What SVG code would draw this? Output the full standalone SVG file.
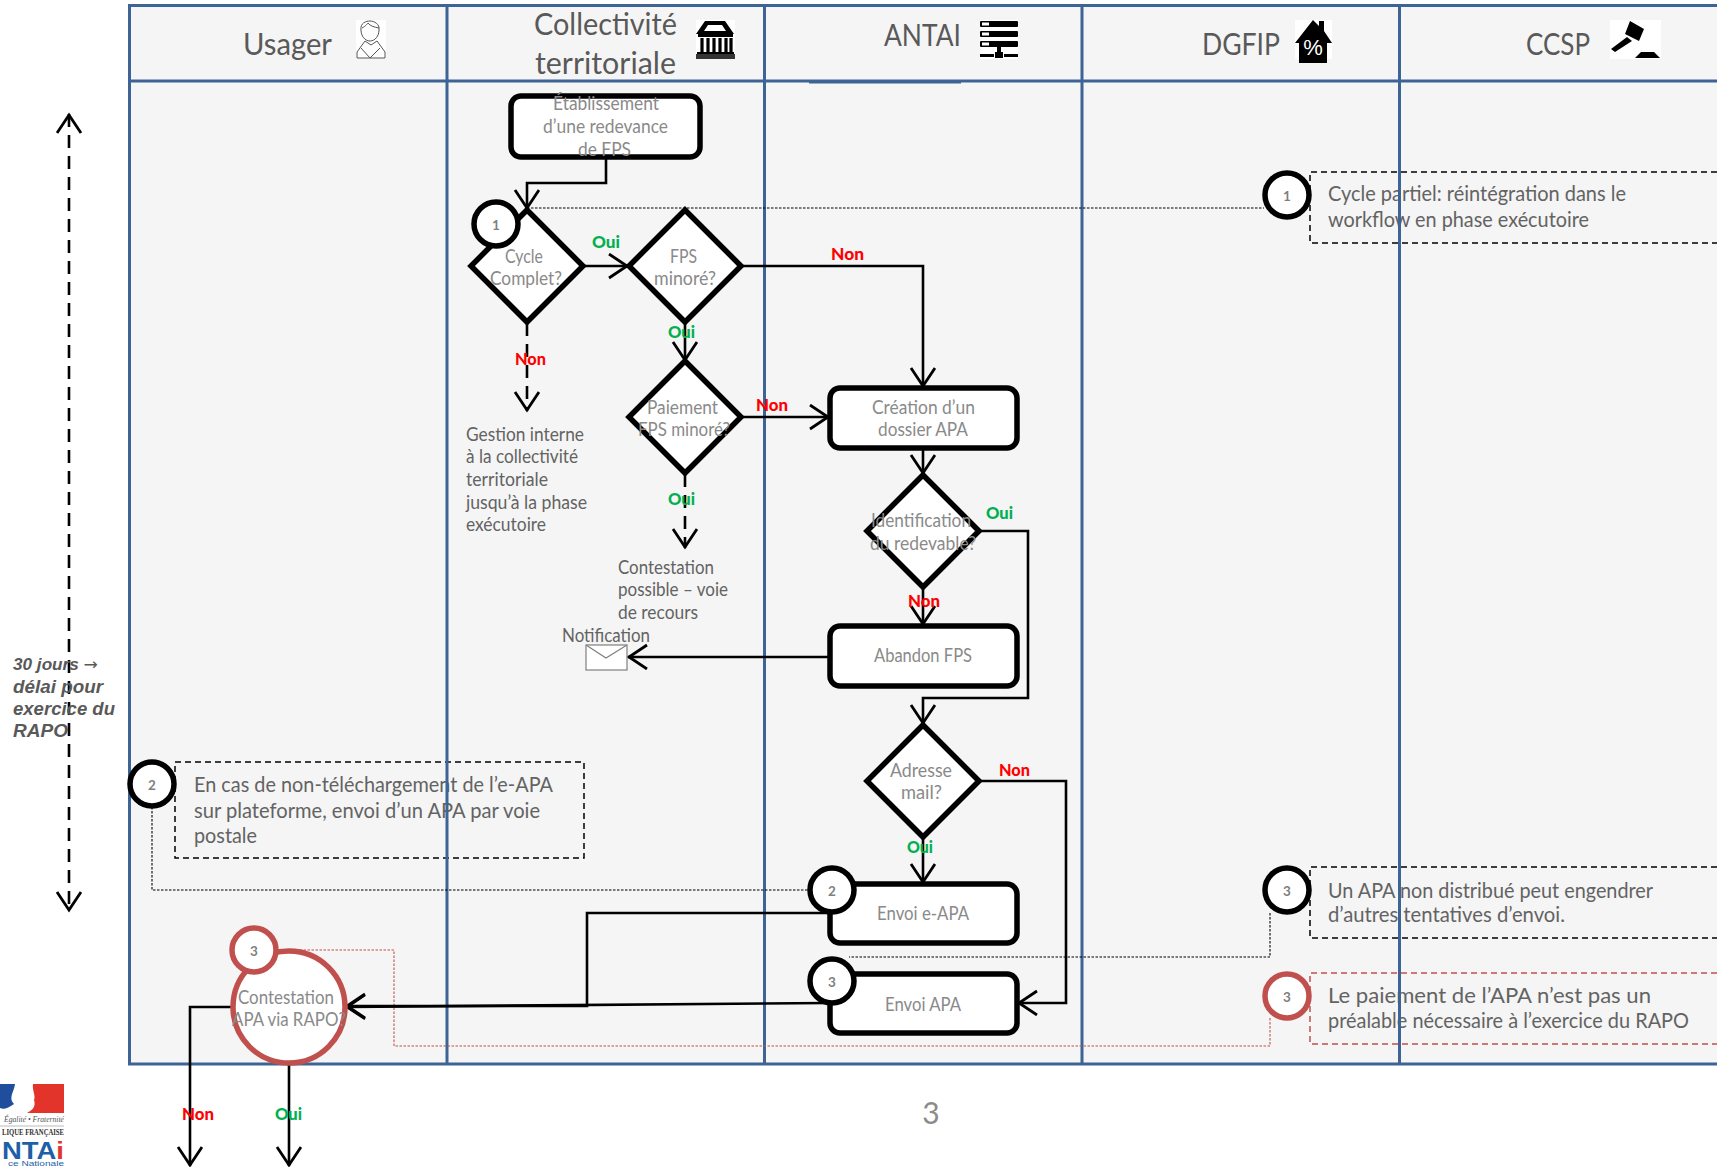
<svg xmlns="http://www.w3.org/2000/svg" width="1717" height="1167" viewBox="0 0 1717 1167">
<style>
text{font-family:"Lato","Open Sans","Liberation Sans",sans-serif}
.lane{fill:none;stroke:#3e6496;stroke-width:3}
.box{fill:#fff;stroke:#000;stroke-width:5.5}
.rd{fill:#fff;stroke:#000;stroke-width:5.5;stroke-linejoin:miter}
.c{fill:#fff;stroke:#000;stroke-width:5.5}
.cr{fill:#fff;stroke:#c0504d;stroke-width:5.5}
.h{font-size:31px;fill:#595959}
.t{font-size:18.5px;fill:#8a8a8a;text-anchor:start}
.d{font-size:18.5px;fill:#636363}
.n{font-size:20.5px;fill:#636363}
.num{font-size:13.5px;font-weight:700;fill:#7f7f7f;text-anchor:middle}
.oui{font-size:17.5px;font-weight:900;fill:#00b050}
.non{font-size:17.5px;font-weight:900;fill:#ff0000}
.s{font-family:"Liberation Sans",Arial,sans-serif;font-style:italic;font-weight:700;fill:#595959;font-size:18px}
.l{fill:none;stroke:#000;stroke-width:2.6;marker-end:url(#ah)}
.ds{fill:none;stroke:#000;stroke-width:2.6;stroke-dasharray:13 8;marker-end:url(#ah)}
.dot{fill:none;stroke:#000;stroke-width:1.1;stroke-dasharray:2.5 1.5}
.dotr{fill:none;stroke:#c0504d;stroke-width:1.1;stroke-dasharray:2.5 1.5}
.note{fill:none;stroke:#000;stroke-width:1.5;stroke-dasharray:6 4}
.noter{fill:none;stroke:#c0504d;stroke-width:1.5;stroke-dasharray:6 4}
</style>
<defs>
<marker id="ah" markerUnits="userSpaceOnUse" markerWidth="28" markerHeight="30" refX="21" refY="13" orient="auto">
<path d="M2 1 L20 13 L2 25" fill="none" stroke="#000" stroke-width="2.8"/>
</marker>
<marker id="ahs" markerUnits="userSpaceOnUse" markerWidth="28" markerHeight="30" refX="21" refY="13" orient="auto-start-reverse">
<path d="M2 1 L20 13 L2 25" fill="none" stroke="#000" stroke-width="2.8"/>
</marker>
</defs>
<rect width="1717" height="1167" fill="#fff"/>
<g id="swimlane-bg">
<rect x="129.500" y="5.500" width="1587.500" height="1058.500" fill="#f5f5f5"/>
</g>
<g id="notes">
<g id="note-1"><path class="note" d="M1717 172H1310V243H1717"/>
<text class="n" x="1328" y="201" textLength="298" lengthAdjust="spacingAndGlyphs">Cycle partiel: réintégration dans le</text>
<text class="n" x="1328" y="227" textLength="261" lengthAdjust="spacingAndGlyphs">workflow en phase exécutoire</text></g>
<g id="note-2"><rect class="note" x="175" y="762" width="409" height="96"/>
<text class="n" x="194" y="792" textLength="359" lengthAdjust="spacingAndGlyphs">En cas de non-téléchargement de l’e-APA</text>
<text class="n" x="194" y="818" textLength="346" lengthAdjust="spacingAndGlyphs">sur plateforme, envoi d’un APA par voie</text>
<text class="n" x="194" y="843" textLength="63" lengthAdjust="spacingAndGlyphs">postale</text></g>
<g id="note-3"><path class="note" d="M1717 867H1310V938H1717"/>
<text class="n" x="1328" y="898" textLength="325" lengthAdjust="spacingAndGlyphs">Un APA non distribué peut engendrer</text>
<text class="n" x="1328" y="922" textLength="237" lengthAdjust="spacingAndGlyphs">d’autres tentatives d’envoi.</text></g>
<g id="note-4"><path class="noter" d="M1717 973H1310V1044H1717"/>
<text class="n" x="1328" y="1003" textLength="323" lengthAdjust="spacingAndGlyphs">Le paiement de l’APA n’est pas un</text>
<text class="n" x="1328" y="1028" textLength="361" lengthAdjust="spacingAndGlyphs">préalable nécessaire à l’exercice du RAPO</text></g>
</g>
<g id="swimlanes">
<path class="lane" d="M1717 5.500H129.500V1064H1717M129.500 81H1717M447 5.500V1064M764.500 5.500V1064M1082 5.500V1064M1399.500 5.500V1064"/>
<path class="lane" d="M809 82H961"/>
<text class="h" x="243" y="55" textLength="89" lengthAdjust="spacingAndGlyphs">Usager</text>
<text class="h" x="534" y="35" textLength="143" lengthAdjust="spacingAndGlyphs">Collectivité</text>
<text class="h" x="535" y="74" textLength="141" lengthAdjust="spacingAndGlyphs">territoriale</text>
<text class="h" x="884" y="46" textLength="77" lengthAdjust="spacingAndGlyphs">ANTAI</text>
<text class="h" x="1202" y="55" textLength="78" lengthAdjust="spacingAndGlyphs">DGFIP</text>
<text class="h" x="1526" y="55" textLength="64" lengthAdjust="spacingAndGlyphs">CCSP</text>
</g>
<g id="icon-usager">
<rect x="356" y="20" width="30" height="39" fill="#fff"/>
<path d="M361 30c-1-7 5-9 9-9s10 3 9 9c0 6-4 11-9 11s-9-5-9-11zM362 28c4-2 5-4 6-5 2 3 6 4 11 5M365 41l-8 11v6h28v-6l-8-11-6 4zM361 48l9 10 10-10" fill="#fff" stroke="#555" stroke-width="1"/>
</g>
<g id="icon-collectivite">
<rect x="696" y="20" width="39" height="39" fill="#fff"/>
<path d="M705 21h20l9 13H696zM708 25l-4 6h22l-4-6z" fill="#000" fill-rule="evenodd"/>
<rect x="698" y="34" width="35" height="3"/>
<path d="M702 38v14M708 38v14M714 38v14M720 38v14M726 38v14M731 38v14" stroke="#000" stroke-width="3.200"/>
<rect x="697" y="52" width="37" height="2"/><rect x="696" y="54" width="39" height="5" fill="#333"/>
</g>
<g id="icon-antai">
<rect x="980" y="20" width="38" height="39" fill="#fff"/>
<g><rect x="980" y="21" width="38" height="6" rx="1"/><rect x="982" y="22.500" width="7" height="3" fill="#fff"/></g>
<g><rect x="980" y="31" width="38" height="6" rx="1"/><rect x="982" y="32.500" width="7" height="3" fill="#fff"/></g>
<g><rect x="980" y="41" width="38" height="6" rx="1"/><rect x="982" y="42.500" width="7" height="3" fill="#fff"/></g>
<rect x="997" y="47" width="4" height="7"/><rect x="980" y="54" width="14" height="3"/><rect x="995" y="52" width="8" height="6"/><rect x="1004" y="54" width="14" height="3"/>
</g>
<g id="icon-dgfip">
<rect x="1295" y="20" width="37" height="39" fill="#fff"/>
<path d="M1313 20l6 6v-5h5v10l8 12h-5v20h-28V43h-4z"/>
<text x="1313" y="55" text-anchor="middle" style="font-size:22px;font-weight:400;fill:#fff;font-family:'Liberation Sans',sans-serif">%</text>
</g>
<g id="icon-ccsp">
<rect x="1610" y="20" width="51" height="39" fill="#fff"/>
<path d="M1630 21l14 8-5 12-14-7zM1627 37l5 4-17 11-4-3z"/>
<path d="M1641 52h13l6 6h-25z"/>
</g>
<g id="connectors">
<path class="dot" d="M527 208H1264M152 807V890H810M1270 913V957H849"/>
<path class="dotr" d="M1270 1018V1046H394V950H300"/>
<path d="M69 114V911" fill="none" stroke="#000" stroke-width="2.600" stroke-dasharray="13 8" marker-start="url(#ahs)" marker-end="url(#ah)"/>
<path class="l" d="M606 158V183H527V209"/>
<path class="l" d="M584 266H628"/>
<path class="l" d="M742 266H923V387"/>
<path class="l" d="M685 323V361"/>
<path class="ds" d="M527 323V411"/>
<path class="l" d="M742 417H829"/>
<path class="ds" d="M685 474V548"/>
<path class="l" d="M923 449V474"/>
<path class="l" d="M923 588V625"/>
<path class="l" d="M980 531H1028V698H923V724"/>
<path class="l" d="M829 657H628"/>
<path class="l" d="M923 838V883"/>
<path class="l" d="M980 781H1066V1003H1018"/>
<path class="l" d="M829 913H587V1006H346"/>
<path class="l" d="M829 1003L346 1007"/>
<path class="l" d="M232 1007H190V1166"/>
<path class="l" d="M289 1064V1166"/>
</g>
<g id="n-etablissement"><rect class="box" x="511" y="96" width="189" height="61" rx="10"/>
<text class="t" x="553" y="110" textLength="106" lengthAdjust="spacingAndGlyphs">Établissement</text>
<text class="t" x="543" y="133" textLength="125" lengthAdjust="spacingAndGlyphs">d’une redevance</text>
<text class="t" x="578" y="156" textLength="53" lengthAdjust="spacingAndGlyphs">de FPS</text></g>
<g id="n-cycle"><path class="rd" d="M527 210L583 266L527 322L471 266Z"/>
<text class="t" x="505" y="263" textLength="38" lengthAdjust="spacingAndGlyphs">Cycle</text>
<text class="t" x="490" y="285" textLength="72" lengthAdjust="spacingAndGlyphs">Complet?</text></g>
<g id="n-fps"><path class="rd" d="M685 210L741 266L685 322L629 266Z"/>
<text class="t" x="670" y="263" textLength="27" lengthAdjust="spacingAndGlyphs">FPS</text>
<text class="t" x="654" y="285" textLength="62" lengthAdjust="spacingAndGlyphs">minoré?</text></g>
<g id="n-paiement"><path class="rd" d="M685 361L741 417L685 473L629 417Z"/>
<text class="t" x="647" y="414" textLength="71" lengthAdjust="spacingAndGlyphs">Paiement</text>
<text class="t" x="638" y="436" textLength="92" lengthAdjust="spacingAndGlyphs">FPS minoré?</text></g>
<g id="n-creation"><rect class="box" x="830" y="388" width="187" height="60" rx="10"/>
<text class="t" x="872" y="414" textLength="103" lengthAdjust="spacingAndGlyphs">Création d’un</text>
<text class="t" x="878" y="436" textLength="90" lengthAdjust="spacingAndGlyphs">dossier APA</text></g>
<g id="n-identification"><path class="rd" d="M923 475L979 531L923 587L867 531Z"/>
<text class="t" x="871" y="527" textLength="100" lengthAdjust="spacingAndGlyphs">Identification</text>
<text class="t" x="870" y="550" textLength="106" lengthAdjust="spacingAndGlyphs">du redevable?</text></g>
<g id="n-abandon"><rect class="box" x="830" y="626" width="187" height="60" rx="10"/>
<text class="t" x="874" y="662" textLength="98" lengthAdjust="spacingAndGlyphs">Abandon FPS</text></g>
<g id="n-adresse"><path class="rd" d="M923 725L979 781L923 837L867 781Z"/>
<text class="t" x="890" y="777" textLength="62" lengthAdjust="spacingAndGlyphs">Adresse</text>
<text class="t" x="901" y="799" textLength="41" lengthAdjust="spacingAndGlyphs">mail?</text></g>
<g id="n-envoi-eapa"><rect class="box" x="830" y="884" width="187" height="59" rx="10"/>
<text class="t" x="877" y="920" textLength="92" lengthAdjust="spacingAndGlyphs">Envoi e-APA</text></g>
<g id="n-envoi-apa"><rect class="box" x="830" y="974" width="187" height="59" rx="10"/>
<text class="t" x="885" y="1011" textLength="76" lengthAdjust="spacingAndGlyphs">Envoi APA</text></g>
<g id="n-contestation-rapo"><circle class="cr" cx="289" cy="1007" r="56"/>
<text class="t" x="238" y="1004" textLength="96" lengthAdjust="spacingAndGlyphs">Contestation</text>
<text class="t" x="232" y="1026" textLength="114" lengthAdjust="spacingAndGlyphs">APA via RAPO?</text></g>
<g id="badges">
<g id="b1a"><circle class="c" cx="496" cy="224" r="22"/><text class="num" x="496" y="230">1</text></g>
<g id="b1b"><circle class="c" cx="1287" cy="195" r="22"/><text class="num" x="1287" y="201">1</text></g>
<g id="b2a"><circle class="c" cx="152" cy="784" r="22"/><text class="num" x="152" y="790">2</text></g>
<g id="b2b"><circle class="c" cx="832" cy="890" r="22"/><text class="num" x="832" y="896">2</text></g>
<g id="b3a"><circle class="c" cx="832" cy="981" r="22"/><text class="num" x="832" y="987">3</text></g>
<g id="b3b"><circle class="c" cx="1287" cy="890" r="22"/><text class="num" x="1287" y="896">3</text></g>
<g id="b3c"><circle class="cr" cx="1287" cy="996" r="22"/><text class="num" x="1287" y="1002">3</text></g>
<g id="b3d"><circle class="cr" cx="254" cy="950" r="22"/><text class="num" x="254" y="956">3</text></g>
</g>
<g id="free-text">
<text class="d" x="466" y="441" textLength="118" lengthAdjust="spacingAndGlyphs">Gestion interne</text>
<text class="d" x="466" y="463" textLength="112" lengthAdjust="spacingAndGlyphs">à la collectivité</text>
<text class="d" x="466" y="486" textLength="82" lengthAdjust="spacingAndGlyphs">territoriale</text>
<text class="d" x="466" y="509" textLength="121" lengthAdjust="spacingAndGlyphs">jusqu’à la phase</text>
<text class="d" x="466" y="531" textLength="80" lengthAdjust="spacingAndGlyphs">exécutoire</text>
<text class="d" x="618" y="574" textLength="96" lengthAdjust="spacingAndGlyphs">Contestation</text>
<text class="d" x="618" y="596" textLength="110" lengthAdjust="spacingAndGlyphs">possible – voie</text>
<text class="d" x="618" y="619" textLength="80" lengthAdjust="spacingAndGlyphs">de recours</text>
<text class="d" x="562" y="642" textLength="88" lengthAdjust="spacingAndGlyphs">Notification</text>
<text class="s" x="13" y="670" textLength="85" lengthAdjust="spacingAndGlyphs" style="font-size:16px">30 jours <tspan style="font-family:'DejaVu Sans',sans-serif;font-weight:400;font-style:normal">→</tspan></text>
<text class="s" x="13" y="693" textLength="90" lengthAdjust="spacingAndGlyphs">délai pour</text>
<text class="s" x="13" y="715" textLength="102" lengthAdjust="spacingAndGlyphs">exercice du</text>
<text class="s" x="13" y="737" textLength="55" lengthAdjust="spacingAndGlyphs">RAPO</text>
<text x="931" y="1124" text-anchor="middle" style="font-size:30px;fill:#8b8b8b">3</text>
</g>
<g id="envelope">
<rect x="586" y="645" width="41" height="25" fill="#fff" stroke="#7f7f7f" stroke-width="1.200"/>
<path d="M586 645L606 658L627 645" fill="none" stroke="#7f7f7f" stroke-width="1.200"/>
</g>
<g id="labels">
<text class="oui" x="592" y="248" textLength="28" lengthAdjust="spacingAndGlyphs">Oui</text>
<text class="non" x="831" y="260" textLength="33" lengthAdjust="spacingAndGlyphs">Non</text>
<text class="oui" x="668" y="338" textLength="27" lengthAdjust="spacingAndGlyphs">Oui</text>
<text class="non" x="515" y="365" textLength="31" lengthAdjust="spacingAndGlyphs">Non</text>
<text class="non" x="756" y="411" textLength="32" lengthAdjust="spacingAndGlyphs">Non</text>
<text class="oui" x="668" y="505" textLength="27" lengthAdjust="spacingAndGlyphs">Oui</text>
<text class="oui" x="986" y="519" textLength="27" lengthAdjust="spacingAndGlyphs">Oui</text>
<text class="non" x="908" y="607" textLength="32" lengthAdjust="spacingAndGlyphs">Non</text>
<text class="non" x="999" y="776" textLength="31" lengthAdjust="spacingAndGlyphs">Non</text>
<text class="oui" x="907" y="853" textLength="26" lengthAdjust="spacingAndGlyphs">Oui</text>
<text class="non" x="182" y="1120" textLength="32" lengthAdjust="spacingAndGlyphs">Non</text>
<text class="oui" x="275" y="1120" textLength="27" lengthAdjust="spacingAndGlyphs">Oui</text>
</g>
<g id="logo">
<path d="M0 1084H15C14 1092 8 1098 14 1104C8 1108 4 1110 0 1108Z" fill="#1f4e9c"/>
<path d="M33 1084H64V1113H27C33 1110 36 1106 34 1100C36 1096 32 1090 33 1084Z" fill="#e2342a"/>
<text x="4" y="1122" textLength="60" lengthAdjust="spacingAndGlyphs" style="font-family:'Liberation Serif',serif;font-size:7.500px;font-style:italic;fill:#555">Égalité • Fraternité</text>
<path d="M0 1126H64" stroke="#aaa" stroke-width="0.800"/>
<text x="2" y="1135" textLength="62" lengthAdjust="spacingAndGlyphs" style="font-family:'Liberation Serif',serif;font-size:8px;font-weight:700;fill:#333">LIQUE FRANÇAISE</text>
<text x="2" y="1159" textLength="62" lengthAdjust="spacingAndGlyphs" style="font-family:'Liberation Sans',sans-serif;font-size:23px;font-weight:700;fill:#1f5fa8">NTA<tspan fill="#e2342a">i</tspan></text>
<text x="8" y="1166" textLength="56" lengthAdjust="spacingAndGlyphs" style="font-family:'Liberation Sans',sans-serif;font-size:7px;fill:#1f5fa8">ce  Nationale</text>
</g>
</svg>
